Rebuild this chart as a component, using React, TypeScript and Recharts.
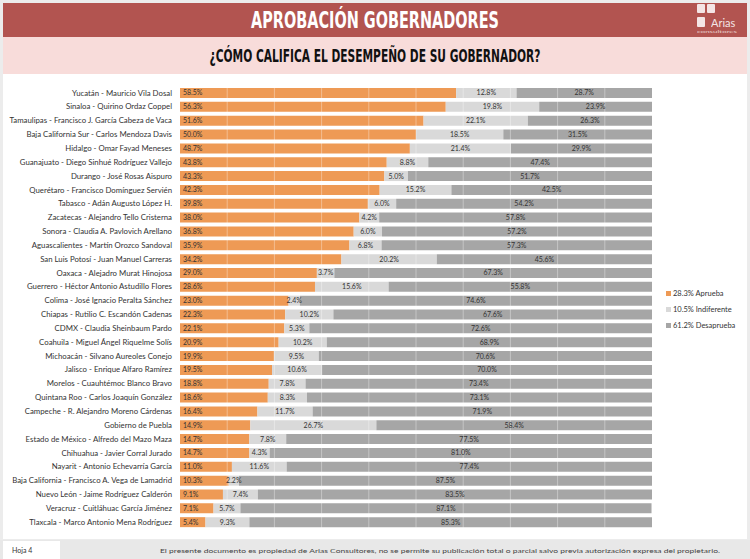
import React from 'react';
import { BarChart, Bar, XAxis, YAxis, LabelList, Legend, ReferenceLine } from 'recharts';

const categories = [
  'Yucatán  - Mauricio Vila Dosal',
  'Sinaloa - Quirino Ordaz Coppel',
  'Tamaulipas - Francisco J. García Cabeza de Vaca',
  'Baja California Sur - Carlos Mendoza Davis',
  'Hidalgo - Omar Fayad Meneses',
  'Guanajuato - Diego Sinhué Rodríguez Vallejo',
  'Durango - José Rosas Aispuro',
  'Querétaro - Francisco Domínguez Servién',
  'Tabasco - Adán Augusto López H.',
  'Zacatecas - Alejandro Tello Cristerna',
  'Sonora - Claudia A. Pavlovich Arellano',
  'Aguascalientes - Martín Orozco Sandoval',
  'San Luis Potosí - Juan Manuel Carreras',
  'Oaxaca  - Alejadro Murat Hinojosa',
  'Guerrero - Héctor Antonio Astudillo Flores',
  'Colima - José Ignacio Peralta Sánchez',
  'Chiapas - Rutilio C. Escandón Cadenas',
  'CDMX - Claudia Sheinbaum Pardo',
  'Coahuila - Miguel Ángel Riquelme Solís',
  'Michoacán - Silvano Aureoles Conejo',
  'Jalisco - Enrique Alfaro Ramírez',
  'Morelos - Cuauhtémoc Blanco Bravo',
  'Quintana Roo - Carlos Joaquín González',
  'Campeche - R. Alejandro Moreno Cárdenas',
  'Gobierno de Puebla',
  'Estado de México - Alfredo del Mazo Maza',
  'Chihuahua - Javier Corral Jurado',
  'Nayarit - Antonio Echevarría García',
  'Baja California - Francisco A. Vega de Lamadrid',
  'Nuevo León  - Jaime Rodríguez Calderón',
  'Veracruz - Cuitláhuac García Jiménez',
  'Tlaxcala - Marco Antonio Mena Rodríguez',
];

const aprueba = [58.5, 56.3, 51.6, 50.0, 48.7, 43.8, 43.3, 42.3, 39.8, 38.0, 36.8, 35.9, 34.2, 29.0, 28.6, 23.0, 22.3, 22.1, 20.9, 19.9, 19.5, 18.8, 18.6, 16.4, 14.9, 14.7, 14.7, 11.0, 10.3, 9.1, 7.1, 5.4];
const indiferente = [12.8, 19.8, 22.1, 18.5, 21.4, 8.8, 5.0, 15.2, 6.0, 4.2, 6.0, 6.8, 20.2, 3.7, 15.6, 2.4, 10.2, 5.3, 10.2, 9.5, 10.6, 7.8, 8.3, 11.7, 26.7, 7.8, 4.3, 11.6, 2.2, 7.4, 5.7, 9.3];
const desaprueba = [28.7, 23.9, 26.3, 31.5, 29.9, 47.4, 51.7, 42.5, 54.2, 57.8, 57.2, 57.3, 45.6, 67.3, 55.8, 74.6, 67.6, 72.6, 68.9, 70.6, 70.0, 73.4, 73.1, 71.9, 58.4, 77.5, 81.0, 77.4, 87.5, 83.5, 87.1, 85.3];

const seriesNames = ['28.3% Aprueba', '10.5% Indiferente', '61.2% Desaprueba'];
const gridTicks = [10, 20, 30, 40, 50, 60, 70, 80, 90];

const TITLE = 'APROBACIÓN GOBERNADORES';
const SUBTITLE = '¿CÓMO CALIFICA EL DESEMPEÑO DE SU GOBERNADOR?';
const FOOTER = 'El presente documento es propiedad de Arias Consultores, no se permite su publicación total o parcial salvo previa autorización expresa del propietario.';
const PAGE = 'Hoja 4';

const COLORS = ['#EE9A55', '#D9D9D9', '#A6A6A6'];
const FONT = 'Lato, "Open Sans", sans-serif';

const data = categories.map((name, i) => ({
  name,
  a: aprueba[i],
  ind: indiferente[i],
  d: desaprueba[i],
}));

const fmt = (v: any) => `${Number(v).toFixed(1)}%`;

const LegendContent = (props: any) => {
  const payload = [...(props.payload || [])].sort(
    (p: any, q: any) => seriesNames.indexOf(p.value) - seriesNames.indexOf(q.value)
  );
  return (
    <div style={{ fontFamily: FONT, fontSize: 7.5, color: '#333' }}>
      {payload.map((p: any, i: number) => (
        <div key={i} style={{ display: 'flex', alignItems: 'center', height: 16 }}>
          <span style={{ display: 'inline-block', width: 5, height: 5, background: p.color, marginRight: 2 }} />
          <span>{p.value}</span>
        </div>
      ))}
    </div>
  );
};

const CategoryTick = (props: any) => {
  const { x, y, payload } = props;
  return (
    <text x={x} y={y} dy={2.7} textAnchor="end" fill="#333" fontFamily={FONT} fontSize={7.8}>
      {payload.value}
    </text>
  );
};

export default function App() {
  return (
    <div style={{ position: 'absolute', left: 0, top: 0, width: 750, height: 559, background: '#ECECEC', overflow: 'hidden' }}>
      <div style={{ position: 'absolute', left: 3, top: 3, width: 744, height: 536, background: '#FFFFFF' }} />
      <svg width={750} height={80} style={{ position: 'absolute', left: 0, top: 0 }}>
        <rect x={3} y={3} width={744} height={34} fill="#B25450" />
        <rect x={3} y={37} width={744} height={37} fill="#F8DCDA" />
        <text x={375} y={28} textAnchor="middle" fill="#FFFFFF" fontFamily='"DejaVu Sans Condensed", "DejaVu Sans", sans-serif' fontWeight="bold" fontSize={23} textLength={248} lengthAdjust="spacingAndGlyphs">{TITLE}</text>
        <text x={375} y={62} textAnchor="middle" fill="#111111" fontFamily='"DejaVu Sans Condensed", "DejaVu Sans", sans-serif' fontWeight="bold" fontSize={17} textLength={331} lengthAdjust="spacingAndGlyphs">{SUBTITLE}</text>
        <rect x={697} y={4} width={8} height={9} rx={1} fill="#FFFFFF" opacity={0.85} />
        <rect x={707} y={4} width={8} height={9} rx={1} fill="#FFFFFF" opacity={0.85} />
        <rect x={697} y={17} width={8} height={10} rx={1} fill="#FFFFFF" opacity={0.85} />
        <text x={711} y={27} fill="#FFFFFF" opacity={0.85} fontFamily={FONT} fontSize={11}>Arias</text>
        <text x={697} y={33} fill="#FFFFFF" opacity={0.7} fontFamily={FONT} fontSize={3} textLength={40} lengthAdjust="spacingAndGlyphs">consultores</text>
      </svg>
      <svg width={750} height={20} style={{ position: 'absolute', left: 0, top: 540 }}>
        <rect x={0} y={0} width={750} height={20} fill="#E8E8E8" />
        <rect x={3} y={1} width={57} height={19} fill="#FFFFFF" />
        <text x={12} y={13} fill="#333" fontFamily={FONT} fontSize={7}>{PAGE}</text>
        <text x={160} y={13} fill="#444" fontFamily={FONT} fontSize={6.5} textLength={560} lengthAdjust="spacingAndGlyphs">{FOOTER}</text>
      </svg>
      <div style={{ position: 'absolute', left: 0, top: 0 }}>
        <BarChart
          width={750}
          height={559}
          data={data}
          layout="vertical"
          margin={{ top: 86, right: 98, bottom: 30, left: 0 }}
          barSize={10}
        >
          <XAxis type="number" domain={[0, 100]} hide allowDataOverflow />
          <YAxis
            type="category"
            dataKey="name"
            width={180}
            interval={0}
            axisLine={false}
            tickLine={false}
            tickSize={0}
            tickMargin={8}
            tick={<CategoryTick />}
          />
          <Legend
            layout="vertical"
            verticalAlign="middle"
            align="center"
            content={<LegendContent />}
            wrapperStyle={{ position: 'absolute', left: 666, top: 285, width: 90 }}
          />
          <Bar dataKey="a" name={seriesNames[0]} stackId="s" fill={COLORS[0]} isAnimationActive={false}>
            <LabelList dataKey="a" position="insideLeft" offset={3} formatter={fmt} style={{ fontSize: 7, fill: '#333', fontFamily: FONT }} />
          </Bar>
          <Bar dataKey="ind" name={seriesNames[1]} stackId="s" fill={COLORS[1]} isAnimationActive={false}>
            <LabelList dataKey="ind" position="center" formatter={fmt} style={{ fontSize: 7, fill: '#333', fontFamily: FONT }} />
          </Bar>
          <Bar dataKey="d" name={seriesNames[2]} stackId="s" fill={COLORS[2]} isAnimationActive={false}>
            <LabelList dataKey="d" position="center" formatter={fmt} style={{ fontSize: 7, fill: '#333', fontFamily: FONT }} />
          </Bar>
          {gridTicks.map((t) => (
            <ReferenceLine key={t} x={t} stroke="#FFFFFF" strokeOpacity={0.35} strokeWidth={1} ifOverflow="hidden" />
          ))}
        </BarChart>
      </div>
    </div>
  );
}
